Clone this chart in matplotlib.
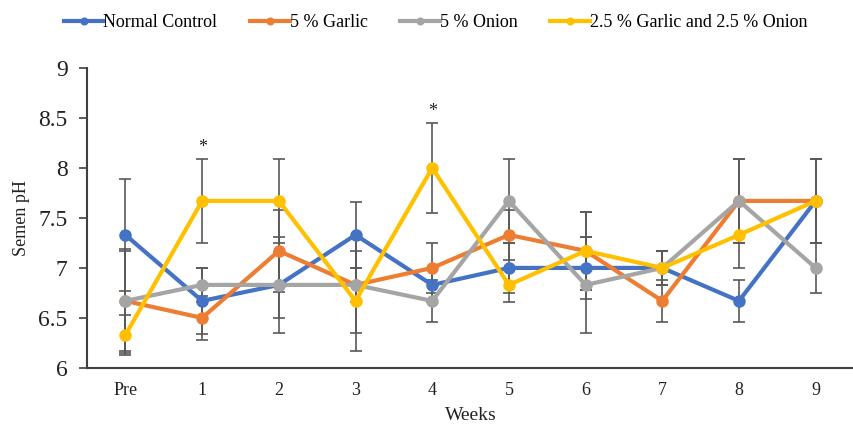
"""
Semen pH by week - four diet groups
"""

import matplotlib.pyplot as plt

# ── data ──────────────────────────────────────────
WEEKS = ["Pre", "1", "2", "3", "4", "5", "6", "7", "8", "9"]

control      = [7.33, 6.67, 6.83, 7.33, 6.83, 7.00, 7.00, 7.00, 6.67, 7.67]
control_sd   = [0.56, 0.33, 0.48, 0.33, 0.17, 0.25, 0.31, 0.17, 0.21, 0.42]
garlic       = [6.67, 6.50, 7.17, 6.83, 7.00, 7.33, 7.17, 6.67, 7.67, 7.67]
garlic_sd    = [0.50, 0.22, 0.41, 0.17, 0.25, 0.25, 0.39, 0.21, 0.42, 0.42]
onion        = [6.67, 6.83, 6.83, 6.83, 6.67, 7.67, 6.83, 7.00, 7.67, 7.00]
onion_sd     = [0.52, 0.17, 0.33, 0.48, 0.21, 0.42, 0.48, 0.17, 0.42, 0.25]
mix          = [6.33, 7.67, 7.67, 6.67, 8.00, 6.83, 7.17, 7.00, 7.33, 7.67]
mix_sd       = [0.20, 0.42, 0.42, 0.50, 0.45, 0.17, 0.39, 0.17, 0.33, 0.42]

SERIES = [
    ("Normal Control",                 control, control_sd, "#4472c4"),
    ("5 % Garlic",                     garlic,  garlic_sd,  "#ed7d31"),
    ("5 % Onion",                      onion,   onion_sd,   "#a5a5a5"),
    ("2.5 % Garlic and 2.5 % Onion",   mix,     mix_sd,     "#ffc000"),
]

STARS = [(1, 8.09), (4, 8.45)]   # (week index, top of error bar)

plt.rcParams["font.family"] = ["Liberation Serif", "DejaVu Serif"]

# ── chart ─────────────────────────────────────────
fig = plt.figure(figsize=(8.54, 4.38), dpi=100)
ax = fig.add_axes([0.102, 0.160, 0.898, 0.685])

x = list(range(len(WEEKS)))
for name, vals, sd, color in SERIES:
    ax.errorbar(x, vals, yerr=sd, fmt="none", ecolor="#595959",
                elinewidth=1.2, capsize=4, capthick=1.2, zorder=2)
for name, vals, sd, color in SERIES:
    ax.plot(x, vals, color=color, linewidth=3, marker="o", markersize=8,
            label=name, zorder=3)

for i, top in STARS:
    ax.text(i, top + 0.03, "*", ha="center", va="bottom", fontsize=13,
            color="#222222")

ax.set_xlim(-0.5, 9.5)
ax.set_ylim(6, 9)
ax.set_yticks([6, 6.5, 7, 7.5, 8, 8.5, 9])
ax.set_yticklabels(["6", "6.5", "7", "7.5", "8", "8.5", "9"])
ax.set_xticks(x)
ax.set_xticklabels(WEEKS)
ax.tick_params(axis="y", labelsize=17, length=6, width=1.2, color="#404040",
               labelcolor="#222222", pad=8)
ax.tick_params(axis="x", labelsize=13, length=0, labelcolor="#222222", pad=10)

for side in ("top", "right"):
    ax.spines[side].set_visible(False)
for side in ("left", "bottom"):
    ax.spines[side].set_color("#404040")
    ax.spines[side].set_linewidth(1.5)

ax.set_xlabel("Weeks", fontsize=14, color="#222222", labelpad=6)
ax.set_ylabel("Semen pH", fontsize=13, color="#222222", labelpad=6)

fig.legend(loc="upper center", bbox_to_anchor=(0.51, 1.005), ncol=4,
           frameon=False, fontsize=13, handlelength=2.2, handletextpad=0.0,
           columnspacing=1.8, markerscale=0.6)

plt.savefig("out.png", dpi=100)
plt.close()
